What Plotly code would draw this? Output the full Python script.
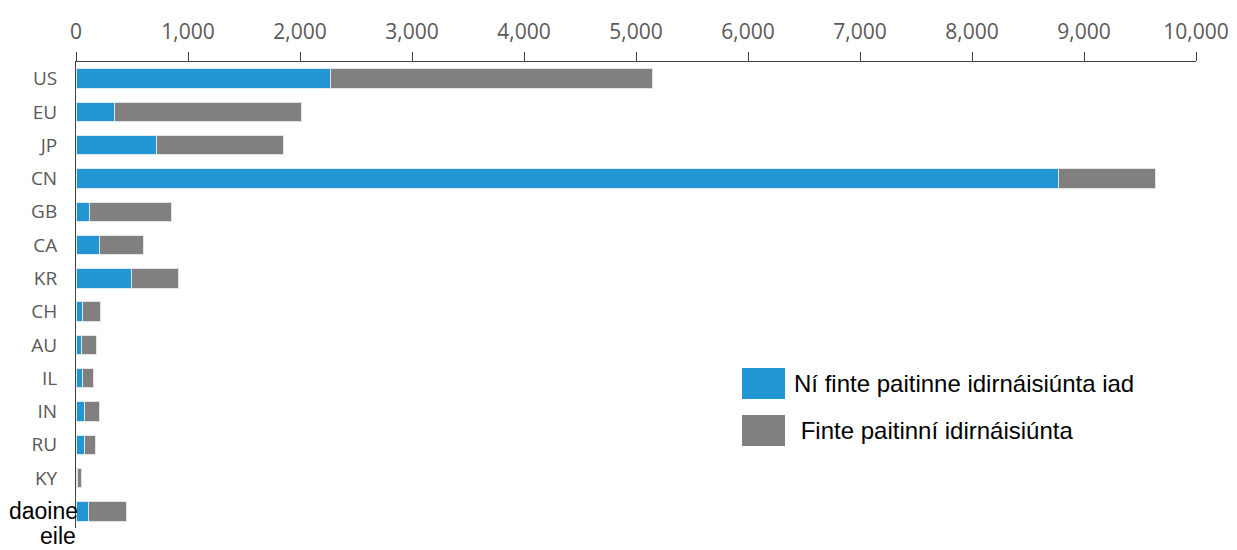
import plotly.graph_objects as go

categories = ["US", "EU", "JP", "CN", "GB", "CA", "KR", "CH", "AU", "IL", "IN", "RU", "KY", "daoine eile"]
not_international = [2270, 340, 715, 8770, 122, 210, 495, 55, 47, 62, 80, 78, 12, 110]
total = [5150, 2010, 1850, 9640, 850, 600, 918, 223, 179, 158, 208, 176, 50, 455]
international = [t - n for t, n in zip(total, not_international)]

legend_names = ["Ní finte paitinne idirnáisiúnta iad", " Finte paitinní idirnáisiúnta"]
x_ticks = list(range(0, 10001, 1000))
x_tick_text = [f"{v:,}" for v in x_ticks]

BLUE = "#2196d3"
GRAY = "#808080"

fig = go.Figure()
fig.add_trace(go.Bar(y=categories, x=not_international, orientation="h", name=legend_names[0],
                     marker=dict(color=BLUE, line=dict(color="#dceaf3", width=1)), showlegend=False))
fig.add_trace(go.Bar(y=categories, x=international, orientation="h", name=legend_names[1],
                     marker=dict(color=GRAY, line=dict(color="#e3e3e3", width=1)), showlegend=False))

tick_labels = categories[:-1] + [""]

fig.update_layout(
    width=1237, height=550,
    margin=dict(l=76, r=41, t=62, b=22, autoexpand=False),
    barmode="stack", bargap=0.42,
    plot_bgcolor="white", paper_bgcolor="white",
    xaxis=dict(side="top", range=[0, 10000], tickvals=x_ticks, ticktext=x_tick_text,
               automargin=False,
               showgrid=False, zeroline=False, showline=True, linecolor="#404040", linewidth=1,
               ticks="outside", ticklen=9, tickcolor="#404040", ticklabelstandoff=5,
               tickfont=dict(family="Open Sans", size=21, color="#595959")),
    yaxis=dict(categoryorder="array", categoryarray=categories, autorange="reversed",
               tickvals=categories, ticktext=tick_labels, automargin=False,
               showgrid=False, zeroline=False, showline=True, linecolor="#404040", linewidth=1,
               ticks="", ticklabelstandoff=14,
               tickfont=dict(family="Open Sans", size=19, color="#595959")),
)

# two-line label for the last category, split into its words
last_words = categories[-1].split(" ")
for i, word in enumerate(last_words):
    fig.add_annotation(xref="paper", yref="y", x=0, y=categories[-1], text=word,
                       xanchor="right", yanchor="middle", showarrow=False,
                       yshift=-25 * i, xshift=4 if i == 0 else 2,
                       font=dict(family="Liberation Sans", size=23, color="black"))

# manual legend
legend_colors = [BLUE, GRAY]
legend_y = [383, 430]
for name, col, yc in zip(legend_names, legend_colors, legend_y):
    fig.add_shape(type="rect", xref="paper", yref="paper",
                  x0=(742 - 76) / 1120, x1=(785 - 76) / 1120,
                  y0=(528 - (yc + 16)) / 466, y1=(528 - (yc - 15)) / 466,
                  fillcolor=col, line=dict(width=0))
    fig.add_annotation(xref="paper", yref="paper", x=(792 - 76) / 1120, y=(528 - yc) / 466,
                       text=name, xanchor="left", yanchor="middle", showarrow=False,
                       font=dict(family="Liberation Sans", size=24, color="black"))

fig.write_html("out.html", config={"displayModeBar": False},
               post_script="document.body.style.margin='0';")
